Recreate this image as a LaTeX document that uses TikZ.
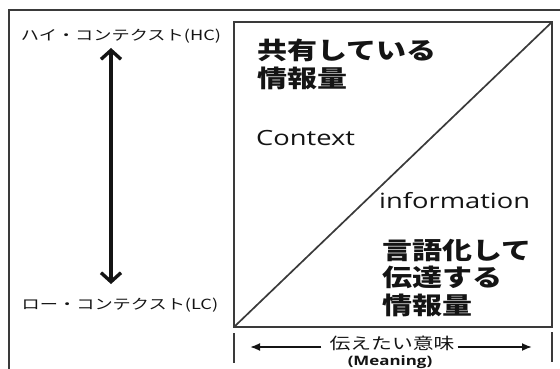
\documentclass[tikz,border=0pt]{standalone}
\usepackage{fontspec}
\usetikzlibrary{arrows.meta}
\newfontfamily\jp[FakeStretch=1.25]{Noto Sans CJK JP}
\newfontfamily\jpside[FakeStretch=1.3]{Noto Sans CJK JP}
\newfontfamily\lat[FakeStretch=1.3]{Open Sans}
\definecolor{linegray}{HTML}{3A3A3A}
\definecolor{ink}{HTML}{141414}
\begin{document}
\begin{tikzpicture}[x=1pt,y=-1pt,
  frame/.style={draw=linegray,line width=1.8pt},
  boxline/.style={draw=linegray,line width=2pt},
  txt/.style={inner sep=0pt,text=ink},
  bigjp/.style={txt,font=\jp\bfseries\fontsize{24}{27.5}\selectfont,align=left},
  sidejp/.style={txt,font=\jpside\fontsize{14}{16}\selectfont},
  latin/.style={txt,font=\lat\fontsize{21}{24}\selectfont},
  vert/.style={draw=ink,line width=3.6pt,{Straight Barb[length=9pt,width=20pt,line width=3.4pt]}-{Straight Barb[length=9pt,width=20pt,line width=3.4pt]}},
  horiz/.style={draw=ink,line width=1.8pt,-{Latex[length=10pt,width=8pt]}},
  tick/.style={draw=linegray,line width=2.2pt}]
\useasboundingbox (0,0) rectangle (560,369);
% outer frame (partly outside the picture)
\coordinate (fbl) at (9,369);
\coordinate (ftl) at (9,10);
\coordinate (ftr) at (560,10);
\draw[frame] (fbl) -- (ftl) -- (ftr);
% inner box and diagonal
\coordinate (bl) at (234,327);
\coordinate (tr) at (552,22);
\draw[boxline] (bl) rectangle (tr);
\draw[boxline,line width=1.7pt] (bl) -- (tr);
% side labels and vertical arrow
\node[sidejp] (hc) at (121,36) {ハイ・コンテクスト(HC)};
\node[sidejp] (lc) at (120,305) {ロー・コンテクスト(LC)};
\coordinate (vtop) at (111,48);
\coordinate (vbot) at (111,284);
\draw[vert] (vtop) -- (vbot);
% box texts
\node[bigjp,anchor=north west] (shared) at (257,39) {共有している\\情報量};
\node[latin,anchor=base west] (ctx) at (256,146) {Context};
\node[latin,anchor=base west] (inf) at (379,208) {information};
\node[bigjp,anchor=north west] (verbal) at (382,239) {言語化して\\伝達する\\情報量};
% bottom dimension
\coordinate (tl1) at (234,333);
\coordinate (tl2) at (234,363);
\coordinate (tr1) at (552,332);
\coordinate (tr2) at (552,362);
\draw[tick] (tl1) -- (tl2);
\draw[tick] (tr1) -- (tr2);
\node[txt,font=\jpside\fontsize{16}{18}\selectfont] (mean) at (392,343) {伝えたい意味};
\node[txt,font=\lat\bfseries\fontsize{13}{15}\selectfont] (meaning) at (390,362) {(Meaning)};
\coordinate (la) at (250,347);
\coordinate (ra) at (532,347);
\draw[horiz] (mean.west |- la) ++(-8,0) coordinate (lstart) -- (la);
\draw[horiz] (mean.east |- ra) ++(3,0) coordinate (rstart) -- (ra);
\end{tikzpicture}
\end{document}
